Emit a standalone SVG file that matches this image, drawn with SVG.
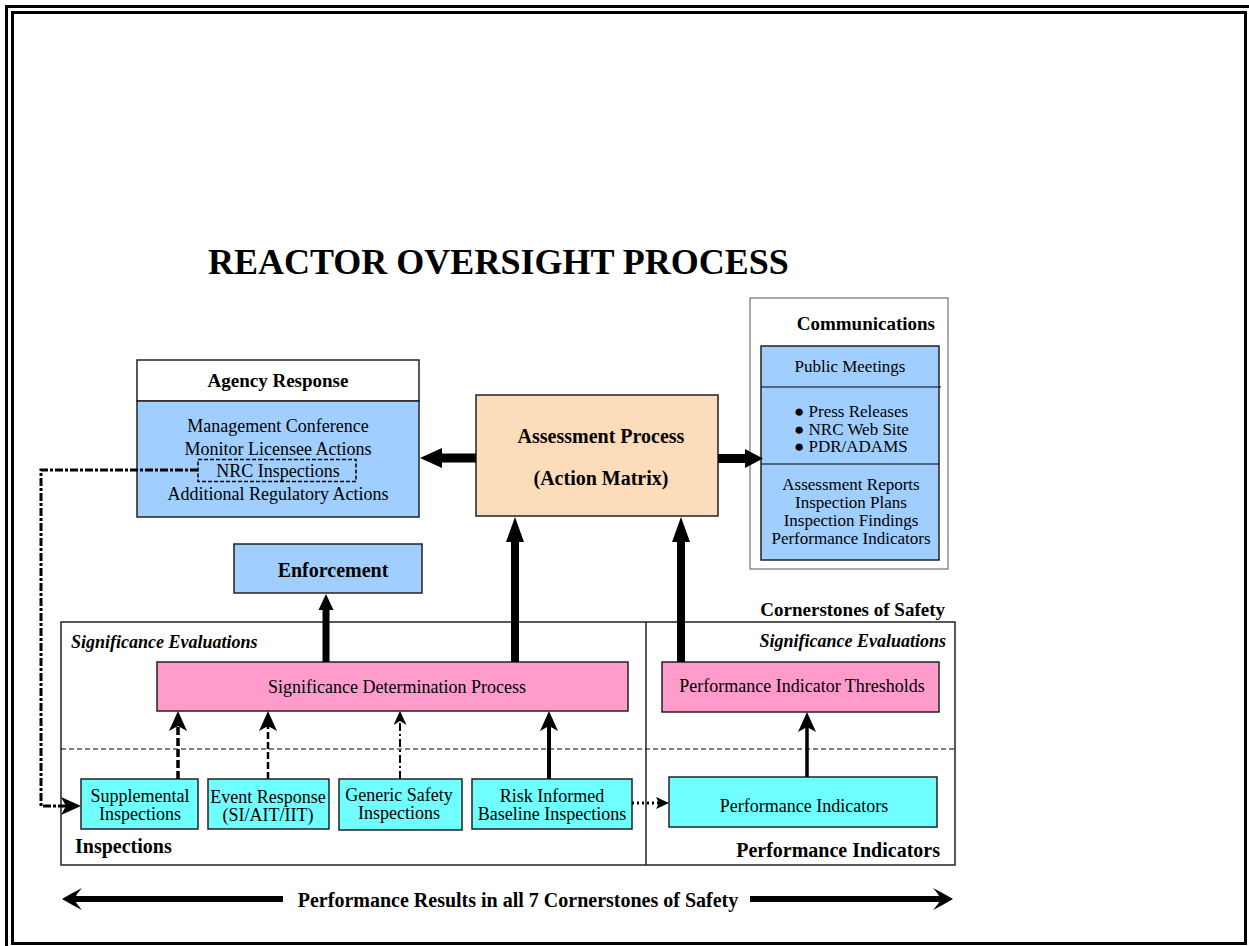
<svg xmlns="http://www.w3.org/2000/svg" width="1249" height="946" viewBox="0 0 1249 946">
<style>
text{font-family:"Liberation Serif","Times New Roman",serif;fill:#000}
.r{font-size:18px}
.c{font-size:17px}
.b{font-size:20px;font-weight:bold}
.bi{font-size:18px;font-weight:bold;font-style:italic}
.m{text-anchor:middle}
.e{text-anchor:end}
.blue{fill:#a0cfff;stroke:#222;stroke-width:1.5}
.pink{fill:#ff9ccc;stroke:#222;stroke-width:1.5}
.cyan{fill:#70ffff;stroke:#222;stroke-width:1.5}
.ln{fill:none;stroke:#000}
</style>
<defs>
<marker id="ah" viewBox="0 0 20 18" refX="6" refY="9" markerWidth="20" markerHeight="18" orient="auto" markerUnits="userSpaceOnUse">
<path d="M0,0 L20,9 L0,18 L5,9 Z" fill="#000"/>
</marker>
<marker id="ahs" viewBox="0 0 14 13" refX="4" refY="6.5" markerWidth="14" markerHeight="13" orient="auto" markerUnits="userSpaceOnUse">
<path d="M0,0 L14,6.5 L0,13 L4,6.5 Z" fill="#000"/>
</marker>
<marker id="ahd" viewBox="0 0 13 12" refX="3" refY="6" markerWidth="13" markerHeight="12" orient="auto" markerUnits="userSpaceOnUse">
<path d="M0,0 L13,6 L0,12 L3,6 Z" fill="#000"/>
</marker>
</defs>
<rect width="1249" height="946" fill="#fff"/>
<!-- frames -->
<rect x="6.5" y="6.5" width="1250" height="950" fill="none" stroke="#000" stroke-width="3"/>
<rect x="12.5" y="12.5" width="1233" height="931" fill="none" stroke="#000" stroke-width="3"/>

<text x="208" y="274" style="font-size:36px;font-weight:bold">REACTOR OVERSIGHT PROCESS</text>

<!-- Cornerstones frame -->
<g id="cornerstones">
<rect x="61" y="622" width="894" height="243" fill="none" stroke="#222" stroke-width="1.5"/>
<line x1="646" y1="622" x2="646" y2="865" stroke="#222" stroke-width="1.5"/>
<line x1="61" y1="749" x2="955" y2="749" stroke="#000" stroke-width="1" stroke-dasharray="5 3"/>
<text x="945" y="616" class="b e" style="font-size:19px">Cornerstones of Safety</text>
<text x="71" y="648" class="bi">Significance Evaluations</text>
<text x="946" y="647" class="bi e">Significance Evaluations</text>
<text x="75" y="853" class="b">Inspections</text>
<text x="940" y="857" class="b e">Performance Indicators</text>
</g>

<g id="agency-response">
<rect x="137" y="360" width="282" height="41" fill="#fff" stroke="#222" stroke-width="1.5"/>
<rect x="137" y="401" width="282" height="116" class="blue"/>
<text x="278" y="387" class="b m" style="font-size:19px">Agency Response</text>
<text x="278" y="432" class="r m">Management Conference</text>
<text x="278" y="455" class="r m">Monitor Licensee Actions</text>
<rect x="198" y="459.5" width="158" height="22" fill="none" stroke="#000" stroke-width="1.5" stroke-dasharray="4 2"/>
<text x="278" y="477" class="r m">NRC Inspections</text>
<text x="278" y="500" class="r m">Additional Regulatory Actions</text>
</g>

<g id="assessment">
<rect x="476" y="395" width="242" height="121" fill="#fddcbc" stroke="#222" stroke-width="1.5"/>
<text x="601" y="443" class="b m">Assessment Process</text>
<text x="601" y="485" class="b m">(Action Matrix)</text>
</g>

<g id="communications">
<rect x="750" y="298" width="198" height="271" fill="#fff" stroke="#555" stroke-width="1"/>
<text x="935" y="330" class="b e" style="font-size:19px">Communications</text>
<rect x="761" y="346" width="178" height="214" class="blue"/>
<line x1="761" y1="387" x2="941" y2="387" stroke="#000" stroke-width="1.2"/>
<line x1="761" y1="464" x2="939" y2="464" stroke="#000" stroke-width="1.2"/>
<text x="850" y="372" class="c m">Public Meetings</text>
<text x="794" y="417" class="c">● Press Releases</text>
<text x="794" y="435" class="c">● NRC Web Site</text>
<text x="794" y="452" class="c">● PDR/ADAMS</text>
<text x="851" y="490" class="c m">Assessment Reports</text>
<text x="851" y="508" class="c m">Inspection Plans</text>
<text x="851" y="526" class="c m">Inspection Findings</text>
<text x="851" y="544" class="c m">Performance Indicators</text>
</g>

<g id="enforcement">
<rect x="234" y="544" width="188" height="49" class="blue"/>
<text x="333" y="577" class="b m">Enforcement</text>
</g>

<g id="sdp">
<rect x="157" y="662" width="471" height="49" class="pink"/>
<text x="397" y="693" class="r m">Significance Determination Process</text>
</g>

<g id="pit">
<rect x="662" y="662" width="277" height="50" class="pink"/>
<text x="802" y="692" class="r m">Performance Indicator Thresholds</text>
</g>

<g id="supplemental">
<rect x="81" y="779" width="117" height="50" class="cyan"/>
<text x="140" y="802" class="r m">Supplemental</text>
<text x="140" y="820" class="r m">Inspections</text>
</g>
<g id="event-response">
<rect x="208" y="779" width="121" height="50" class="cyan"/>
<text x="268" y="803" class="r m">Event Response</text>
<text x="268" y="821" class="r m">(SI/AIT/IIT)</text>
</g>
<g id="generic-safety">
<rect x="339" y="779" width="123" height="51" class="cyan"/>
<text x="399" y="801" class="r m">Generic Safety</text>
<text x="399" y="819" class="r m">Inspections</text>
</g>
<g id="risk-informed">
<rect x="472" y="779" width="160" height="50" class="cyan"/>
<text x="552" y="802" class="r m">Risk Informed</text>
<text x="552" y="820" class="r m">Baseline Inspections</text>
</g>
<g id="performance-indicators">
<rect x="669" y="777" width="268" height="50" class="cyan"/>
<text x="804" y="812" class="r m">Performance Indicators</text>
</g>

<g id="connectors">
<!-- thick arrows -->
<polygon points="420,458 442,448 442,453.5 476,453.5 476,462.5 442,462.5 442,468"/>
<polygon points="718,454 745,454 745,449 763,458.5 745,468 745,463 718,463"/>
<polygon points="515,517 524,542 519,542 519,662 511,662 511,542 506,542"/>
<polygon points="681,517 690,542 685,542 685,662 677,662 677,542 672,542"/>
<polygon points="326,594 333.5,610 329.5,610 329.5,662 322.5,662 322.5,610 318.5,610"/>
<!-- small arrows into SDP / PIT -->
<line x1="178" y1="779" x2="178" y2="725" class="ln" stroke-width="3.5" stroke-dasharray="8 3" marker-end="url(#ah)"/>
<line x1="268" y1="779" x2="268" y2="725" class="ln" stroke-width="2.5" stroke-dasharray="7 3" marker-end="url(#ah)"/>
<line x1="400" y1="779" x2="400" y2="721" class="ln" stroke-width="2" stroke-dasharray="8 3 2 3" marker-end="url(#ahs)"/>
<line x1="549" y1="779" x2="549" y2="725" class="ln" stroke-width="4" marker-end="url(#ah)"/>
<line x1="807" y1="777" x2="807" y2="726" class="ln" stroke-width="3.5" marker-end="url(#ah)"/>
<!-- dotted RIB -> PI -->
<line x1="632" y1="803" x2="659" y2="803" class="ln" stroke-width="3" stroke-dasharray="2 3" marker-end="url(#ahd)"/>
<!-- NRC Inspections -> Supplemental -->
<polyline points="198,470 41,470 41,806 67,806" class="ln" stroke-width="3" stroke-dasharray="8 2 3 2" marker-end="url(#ah)"/>
<!-- bottom double arrow -->
<path d="M62,899 Q72,893 82,888 Q76,895 76,896 L283,896 L283,902 L76,902 Q76,903 82,910 Q72,905 62,899 Z"/>
<path d="M953,899 Q943,893 933,888 Q939,895 939,896 L750,896 L750,902 L939,902 Q939,903 933,910 Q943,905 953,899 Z"/>
</g>
<text x="518" y="907" class="b m">Performance Results in all 7 Cornerstones of Safety</text>
</svg>
